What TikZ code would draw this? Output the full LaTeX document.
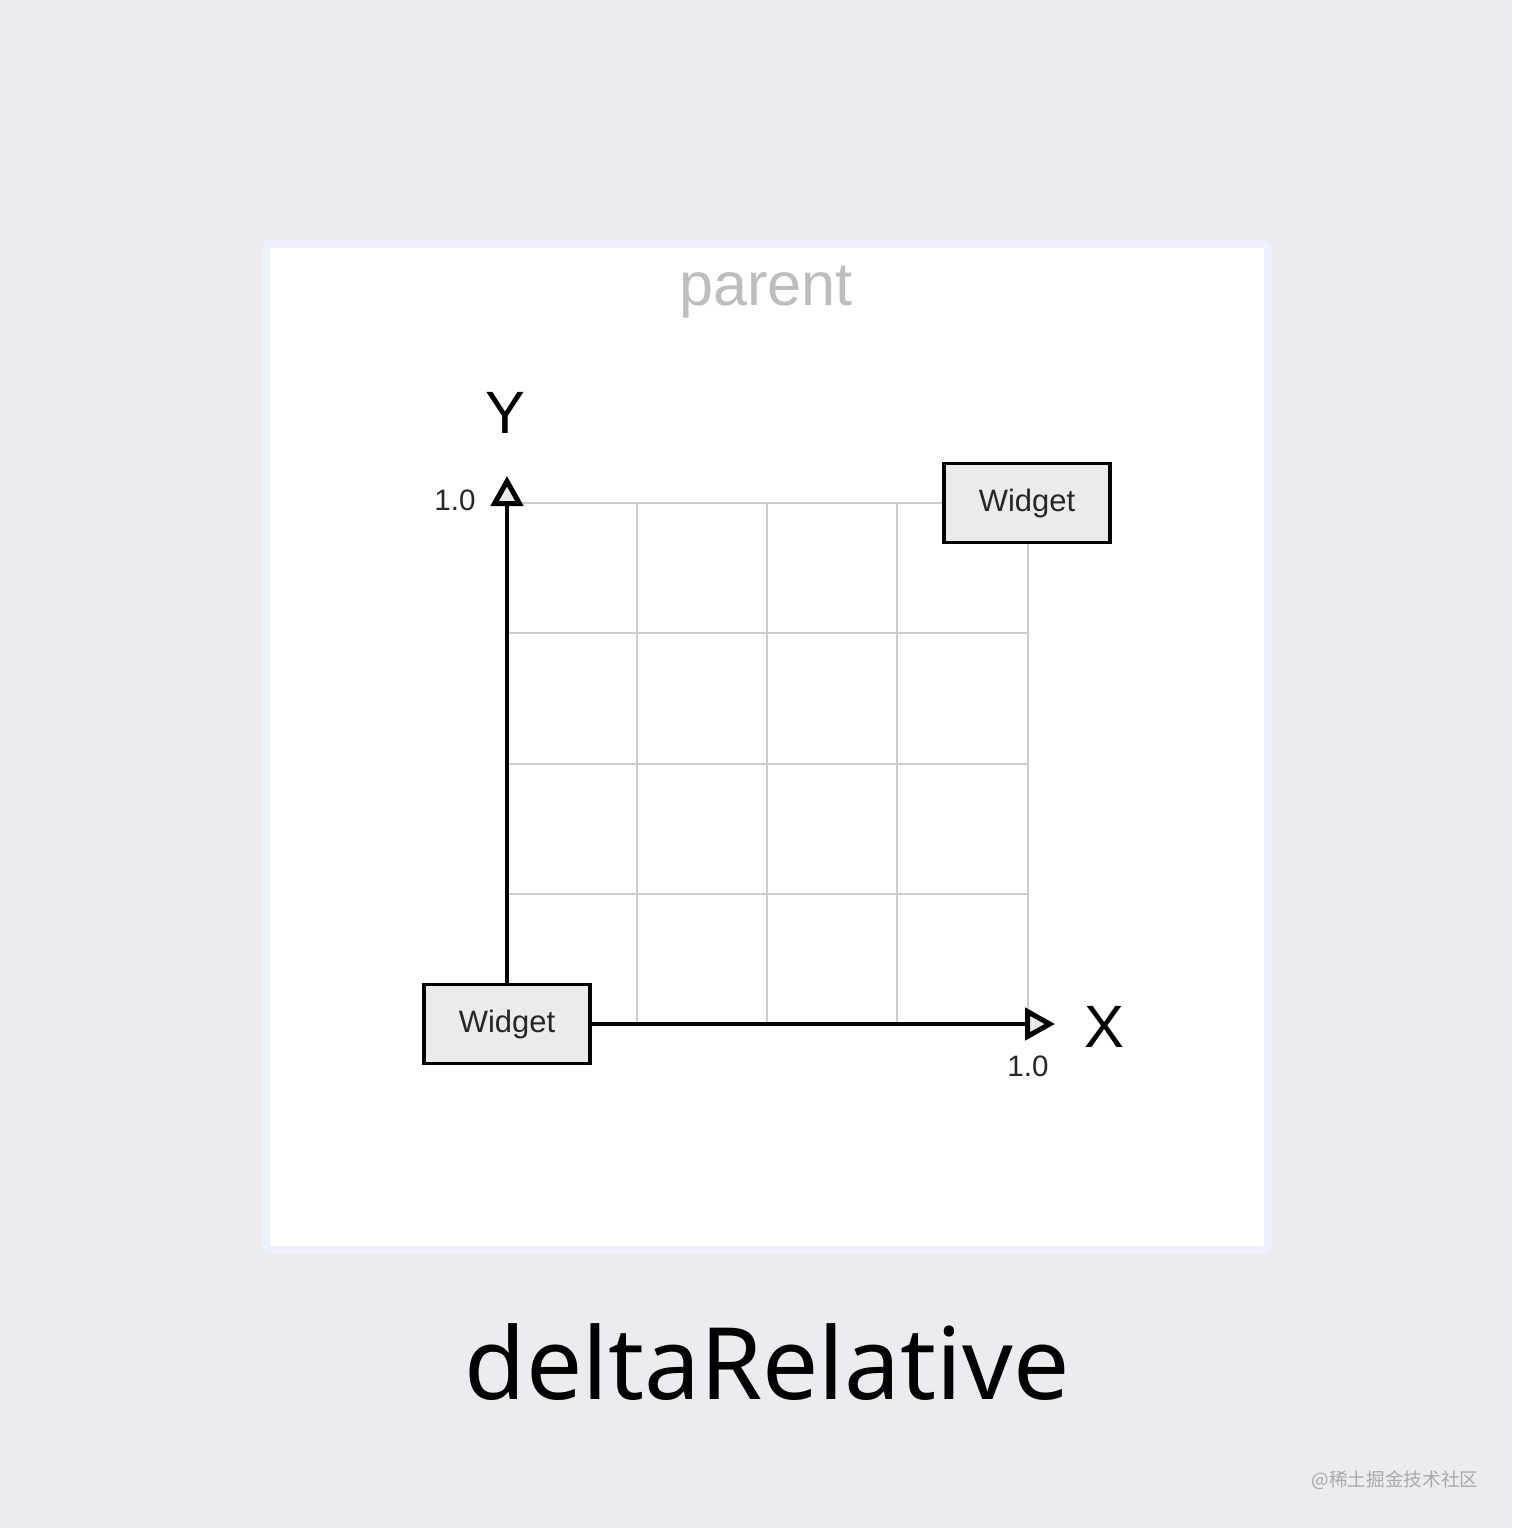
\documentclass[tikz,border=0pt]{standalone}
\usepackage{fontspec}
\setmainfont{Liberation Sans}
\newfontfamily\captionfont{Noto Sans}
\newfontfamily\cjk{Noto Sans CJK SC}
\usetikzlibrary{arrows.meta}
\usetikzlibrary{positioning}
\definecolor{pagegray}{HTML}{EBEBF0}
\definecolor{framelav}{HTML}{EEF0FD}
\definecolor{gridgray}{HTML}{CDCDCD}
\definecolor{boxgray}{HTML}{EBEBEB}
\definecolor{labelgray}{HTML}{BDBDBD}
\definecolor{inkgray}{HTML}{262626}
\tikzset {
  % the white parent area
  parent frame/.style = {
    draw = framelav,
    fill = white,
    line width = 0.08cm,
    rounded corners = 0.04cm
  },
  % thin lines of the unit grid
  grid line/.style = {
    draw = gridgray,
    line width = 0.013cm
  },
  % axis with an open triangle tip
  axis/.style = {
    draw = black,
    line width = 0.04cm,
    -{Triangle[length=0.3cm,width=0.32cm,fill=boxgray,line width=0.05cm]}
  }
}
\tikzset {
  widget/.style = {
    draw = black,
    fill = boxgray,
    line width = 0.035cm,
    rectangle,
    minimum width = 1.66cm,
    minimum height = 0.79cm,
    inner sep = 0,
    text = inkgray,
    font = \fontsize{8.8pt}{10pt}\selectfont
  },
  % value at the end of an axis
  tick/.style = {
    inner sep = 0,
    text = inkgray,
    font = \fontsize{8.4pt}{10pt}\selectfont
  },
  % axis letter
  axis name/.style = {
    inner sep = 0,
    font = \fontsize{17pt}{20pt}\selectfont
  }
}
\begin{document}
\begin{tikzpicture}[x=0.01cm, y=-0.01cm]
    \useasboundingbox[fill=pagegray] (0,0) rectangle (1512,1528);
    \path[parent frame] (266,244) rectangle (1268,1250);
    \node[text=labelgray, font=\fontsize{17.4pt}{20pt}\selectfont] (parent) at (766,292) {parent};

    % grid
    \foreach \gx in {637,767,897}
      \draw[grid line] (\gx,503) -- (\gx,1024);
    \draw[grid line] (1028,543) -- (1028,1024);
    \foreach \gy in {633,764,894}
      \draw[grid line] (507,\gy) -- (1028,\gy);
    \draw[grid line] (507,503) -- (944,503);

    \node[widget] (start) at (507,1024) {Widget};
    \node[widget] (end) at (1027,503) {Widget};
    \coordinate (y-tip) at (507,476);
    \coordinate (x-tip) at (1055,1024);

    \draw[axis] (start.north) -- (y-tip);
    \draw[axis] (start.east) -- (x-tip);

    \node[axis name] (y-name) at (505,413) {Y};
    \node[axis name] (x-name) at (1104,1027) {X};
    \node[tick] (y-one) at (455,500) {1.0};
    \node[tick] (x-one) at (1028,1066) {1.0};

    \node[font=\captionfont\fontsize{28.4pt}{34pt}\selectfont] (caption) at (767,1362) {deltaRelative};
    \node[text=labelgray!90!black, font=\cjk\fontsize{5.3pt}{6pt}\selectfont] (mark) at (1395,1480) {@稀土掘金技术社区};
\end{tikzpicture}
\end{document}
